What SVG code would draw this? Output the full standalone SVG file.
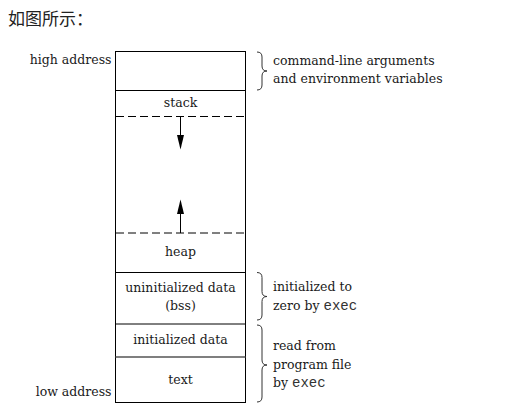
<svg xmlns="http://www.w3.org/2000/svg" width="505" height="415" viewBox="0 0 505 415">
<defs>
<style>
.t{font-family:"DejaVu Serif","Liberation Serif",serif;font-size:12.5px;fill:#1a1a1a}
.m{font-family:"Liberation Mono","DejaVu Sans Mono",monospace;font-size:14px;fill:#333}
.c{text-anchor:middle}
.e{text-anchor:end}
.box{fill:#fff;stroke:#000;stroke-width:1}
.ln{stroke:#000;stroke-width:1;fill:none}
.dash{stroke:#000;stroke-width:1;stroke-dasharray:8 4;fill:none}
.brace{stroke:#333;stroke-width:1;fill:none}
.head{fill:#000}
</style>
</defs>
<rect width="505" height="415" fill="#fff"/>
<text x="8" y="25" font-family="'Noto Sans CJK SC',sans-serif" font-size="17" fill="#222">如图所示：</text>

<g id="memory">
<rect class="box" x="115.5" y="51.5" width="130" height="351"/>
</g>
<g id="args"><rect x="116" y="52" width="129" height="38" fill="none"/></g>
<g id="stack"><text class="t c" x="180.5" y="106.5">stack</text></g>
<g id="heap"><text class="t c" x="180.5" y="256">heap</text></g>
<g id="bss"><text class="t c" x="180.5" y="291.5">uninitialized data</text><text class="t c" x="180.5" y="310">(bss)</text></g>
<g id="data"><text class="t c" x="180.5" y="343.5">initialized data</text></g>
<g id="textseg"><text class="t c" x="180.5" y="383.5">text</text></g>

<g id="labels">
<text class="t e" x="111.5" y="64">high address</text>
<text class="t e" x="111.5" y="396">low address</text>
<text class="t" x="273" y="65">command-line arguments</text>
<text class="t" x="273" y="83">and environment variables</text>
<text class="t" x="273" y="291">initialized to</text>
<text class="t" x="273" y="309.5">zero by <tspan class="m">exec</tspan></text>
<text class="t" x="273" y="350">read from</text>
<text class="t" x="273" y="368.5">program file</text>
<text class="t" x="273" y="386.5">by <tspan class="m">exec</tspan></text>
</g>

<g id="connectors">
<line class="ln" x1="115.5" y1="90.5" x2="245.5" y2="90.5"/>
<line class="dash" x1="116" y1="116.5" x2="245" y2="116.5"/>
<line class="dash" x1="116" y1="233" x2="245" y2="233"/>
<line class="ln" x1="115.5" y1="272.5" x2="245.5" y2="272.5"/>
<line class="ln" x1="115.5" y1="324" x2="245.5" y2="324"/>
<line x1="115.5" y1="357" x2="245.5" y2="357" stroke="#555" stroke-width="1.6"/>
<line class="ln" x1="180.5" y1="116.5" x2="180.5" y2="137"/>
<polygon class="head" points="177,135 184,135 180.5,149.5"/>
<line class="ln" x1="180.5" y1="233" x2="180.5" y2="212"/>
<polygon class="head" points="177,214 184,214 180.5,199.5"/>
<path class="brace" d="M257,52 Q262,52 262,57 L262,66 Q262,71 267,71 Q262,71 262,76 L262,85 Q262,90 257,90"/>
<path class="brace" d="M257,272.5 Q262,272.5 262,277.5 L262,291.5 Q262,296.5 267,296.5 Q262,296.5 262,301.5 L262,315 Q262,320 257,320"/>
<path class="brace" d="M257,325 Q262,325 262,330 L262,360 Q262,365 267,365 Q262,365 262,370 L262,397 Q262,402 257,402"/>
</g>
</svg>
